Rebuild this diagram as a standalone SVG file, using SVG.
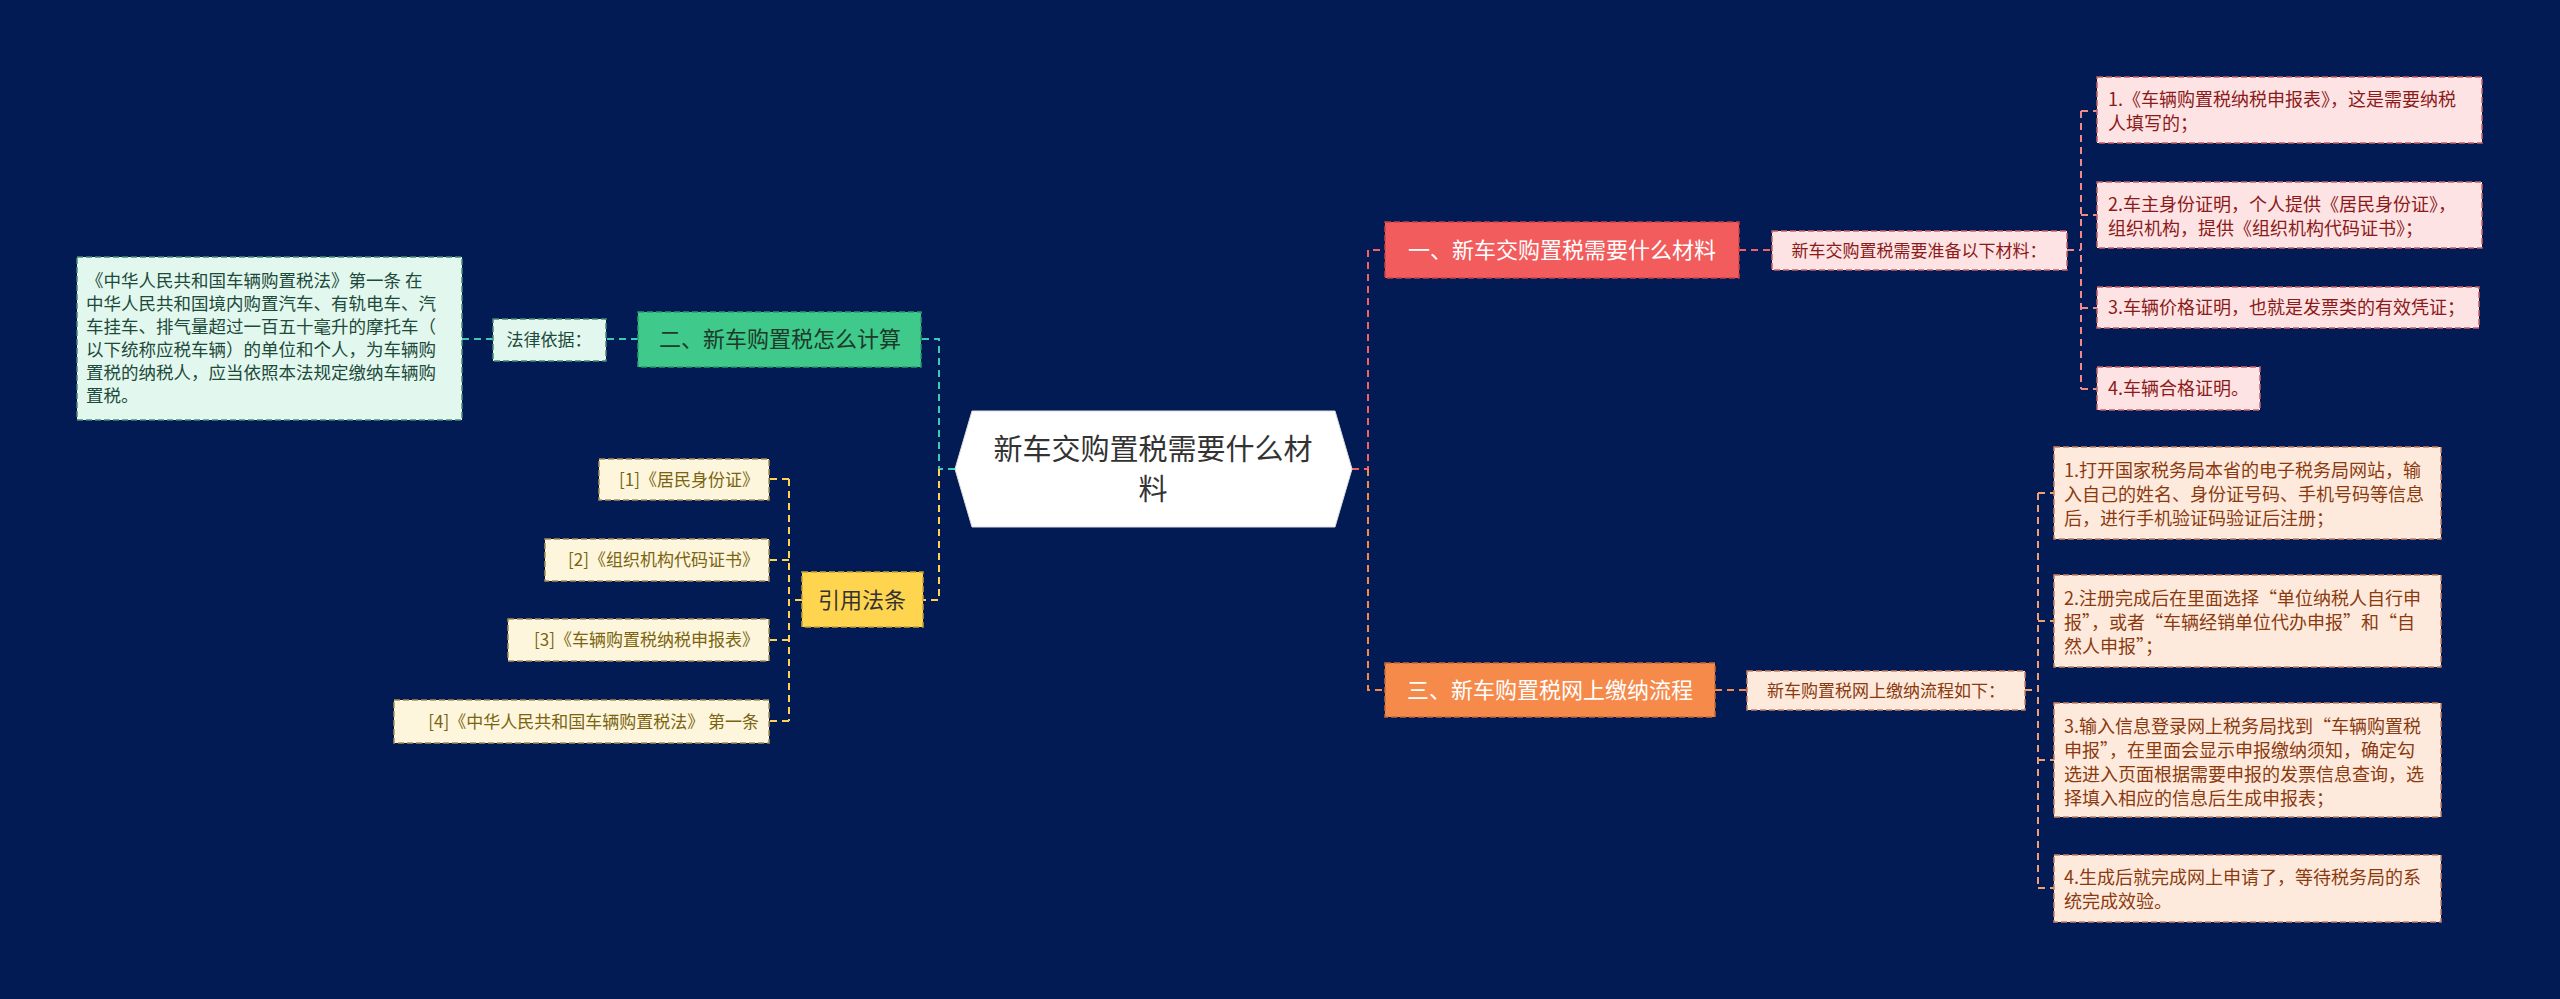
<svg xmlns="http://www.w3.org/2000/svg" width="2560" height="999" viewBox="0 0 2560 999">
<style>
text{font-family:"Noto Sans CJK SC","Liberation Sans",sans-serif}
.c{fill:none;stroke-width:2;stroke-dasharray:7 5}
.b{stroke-width:1.5;stroke-dasharray:6 3}
.s{font-size:18px}
</style>
<rect width="2560" height="999" fill="#021b54"/>
<g id="connectors">
<path class="c" stroke="#3ccab0" d="M955,469 H939 V339 H921"/>
<path class="c" stroke="#ffd24f" d="M939,469 V600 H923"/>
<path class="c" stroke="#f26262" d="M1352,469 H1368 V250 H1385"/>
<path class="c" stroke="#f58a4b" d="M1368,469 V690 H1385"/>
<path class="c" stroke="#f26262" d="M1739,250 H1772"/>
<path class="c" stroke="#f08a8a" d="M2067,250 H2081 M2081,111 V389 M2081,111 H2097 M2081,215 H2097 M2081,308 H2097 M2081,389 H2097"/>
<path class="c" stroke="#f58a4b" d="M1715,690 H1747"/>
<path class="c" stroke="#f0a070" d="M2025,690 H2038 M2038,493 V888 M2038,493 H2054 M2038,621 H2054 M2038,760 H2054 M2038,888 H2054"/>
<path class="c" stroke="#3ccab0" d="M638,339 H606 M493,339 H462"/>
<path class="c" stroke="#ffd24f" d="M802,600 H789 M789,479 V721 M789,479 H769 M789,560 H769 M789,640 H769 M789,721 H769"/>
</g>
<g id="center">
<polygon points="955,469 972,411 1335,411 1352,469 1335,527 972,527" fill="#fff" stroke="#ddd"/>
<text x="1153" y="460" font-size="29" text-anchor="middle" fill="#333">新车交购置税需要什么材</text>
<text x="1153" y="500" font-size="29" text-anchor="middle" fill="#333">料</text>
</g>
<g id="n1">
<rect x="1385" y="222" width="354" height="56" fill="#f25c5c" class="b" stroke="#c94040"/>
<text x="1562" y="258" font-size="22" text-anchor="middle" fill="#fff">一、新车交购置税需要什么材料</text>
</g>
<g id="n1l">
<rect x="1772" y="231" width="295" height="39" fill="#fde3e3" class="b" stroke="#c96060"/>
<text x="1919" y="257" font-size="17" text-anchor="middle" fill="#8b1a1a">新车交购置税需要准备以下材料：</text>
</g>
<g id="r1" fill="#8b1a1a">
<rect x="2097" y="77" width="385" height="66" fill="#fde3e3" class="b" stroke="#c96060"/>
<text x="2108" y="106" font-size="18">1.《车辆购置税纳税申报表》，这是需要纳税</text>
<text x="2108" y="130" font-size="18">人填写的；</text>
</g>
<g id="r2" fill="#8b1a1a">
<rect x="2097" y="182" width="385" height="66" fill="#fde3e3" class="b" stroke="#c96060"/>
<text x="2108" y="211" font-size="18">2.车主身份证明，个人提供《居民身份证》，</text>
<text x="2108" y="235" font-size="18">组织机构，提供《组织机构代码证书》；</text>
</g>
<g id="r3" fill="#8b1a1a">
<rect x="2097" y="287" width="382" height="41" fill="#fde3e3" class="b" stroke="#c96060"/>
<text x="2108" y="314" font-size="18">3.车辆价格证明，也就是发票类的有效凭证；</text>
</g>
<g id="r4" fill="#8b1a1a">
<rect x="2097" y="367" width="163" height="43" fill="#fde3e3" class="b" stroke="#c96060"/>
<text x="2108" y="395" font-size="18">4.车辆合格证明。</text>
</g>
<g id="n3">
<rect x="1385" y="663" width="330" height="54" fill="#f58a4b" class="b" stroke="#c86a30"/>
<text x="1550" y="698" font-size="22" text-anchor="middle" fill="#fff">三、新车购置税网上缴纳流程</text>
</g>
<g id="n3l">
<rect x="1747" y="671" width="278" height="39" fill="#fdeadc" class="b" stroke="#c98060"/>
<text x="1886" y="697" font-size="17" text-anchor="middle" fill="#8b3a10">新车购置税网上缴纳流程如下：</text>
</g>
<g id="p1" fill="#8b3a10" class="s">
<rect x="2054" y="447" width="387" height="92" fill="#fdeadc" class="b" stroke="#c98060"/>
<text x="2064" y="477">1.打开国家税务局本省的电子税务局网站，输</text>
<text x="2064" y="501">入自己的姓名、身份证号码、手机号码等信息</text>
<text x="2064" y="525">后，进行手机验证码验证后注册；</text>
</g>
<g id="p2" fill="#8b3a10" class="s">
<rect x="2054" y="575" width="387" height="92" fill="#fdeadc" class="b" stroke="#c98060"/>
<text x="2064" y="605">2.注册完成后在里面选择“单位纳税人自行申</text>
<text x="2064" y="629">报”，或者“车辆经销单位代办申报”和“自</text>
<text x="2064" y="653">然人申报”；</text>
</g>
<g id="p3" fill="#8b3a10" class="s">
<rect x="2054" y="703" width="387" height="114" fill="#fdeadc" class="b" stroke="#c98060"/>
<text x="2064" y="733">3.输入信息登录网上税务局找到“车辆购置税</text>
<text x="2064" y="757">申报”，在里面会显示申报缴纳须知，确定勾</text>
<text x="2064" y="781">选进入页面根据需要申报的发票信息查询，选</text>
<text x="2064" y="805">择填入相应的信息后生成申报表；</text>
</g>
<g id="p4" fill="#8b3a10" class="s">
<rect x="2054" y="855" width="387" height="67" fill="#fdeadc" class="b" stroke="#c98060"/>
<text x="2064" y="884">4.生成后就完成网上申请了，等待税务局的系</text>
<text x="2064" y="908">统完成效验。</text>
</g>
<g id="n2">
<rect x="638" y="312" width="283" height="55" fill="#3fc98a" class="b" stroke="#2a9a68"/>
<text x="780" y="347" font-size="22" text-anchor="middle" fill="#1d3a2a">二、新车购置税怎么计算</text>
</g>
<g id="n2l">
<rect x="493" y="319" width="113" height="42" fill="#e2f7ee" class="b" stroke="#4a8a70"/>
<text x="549" y="346" font-size="17" text-anchor="middle" fill="#1d4a3a">法律依据：</text>
</g>
<g id="law" fill="#1d4a3a" font-size="17.5">
<rect x="77" y="257" width="385" height="163" fill="#e2f7ee" class="b" stroke="#4a8a70"/>
<text x="86" y="287">《中华人民共和国车辆购置税法》第一条 在</text>
<text x="86" y="310">中华人民共和国境内购置汽车、有轨电车、汽</text>
<text x="86" y="333">车挂车、排气量超过一百五十毫升的摩托车（</text>
<text x="86" y="356">以下统称应税车辆）的单位和个人，为车辆购</text>
<text x="86" y="379">置税的纳税人，应当依照本法规定缴纳车辆购</text>
<text x="86" y="402">置税。</text>
</g>
<g id="n4">
<rect x="802" y="572" width="121" height="55" fill="#ffd54f" class="b" stroke="#c9a030"/>
<text x="862" y="608" font-size="22" text-anchor="middle" fill="#333">引用法条</text>
</g>
<g id="f1"><rect x="599" y="459" width="170" height="41" fill="#fdf6dc" class="b" stroke="#a89050"/><text x="759" y="486" font-size="17" text-anchor="end" fill="#7a6410">[1]《居民身份证》</text></g>
<g id="f2"><rect x="545" y="539" width="224" height="42" fill="#fdf6dc" class="b" stroke="#a89050"/><text x="759" y="566" font-size="17" text-anchor="end" fill="#7a6410">[2]《组织机构代码证书》</text></g>
<g id="f3"><rect x="508" y="619" width="261" height="42" fill="#fdf6dc" class="b" stroke="#a89050"/><text x="759" y="646" font-size="17" text-anchor="end" fill="#7a6410">[3]《车辆购置税纳税申报表》</text></g>
<g id="f4"><rect x="394" y="700" width="375" height="43" fill="#fdf6dc" class="b" stroke="#a89050"/><text x="759" y="728" font-size="17" text-anchor="end" fill="#7a6410">[4]《中华人民共和国车辆购置税法》 第一条</text></g>
</svg>
